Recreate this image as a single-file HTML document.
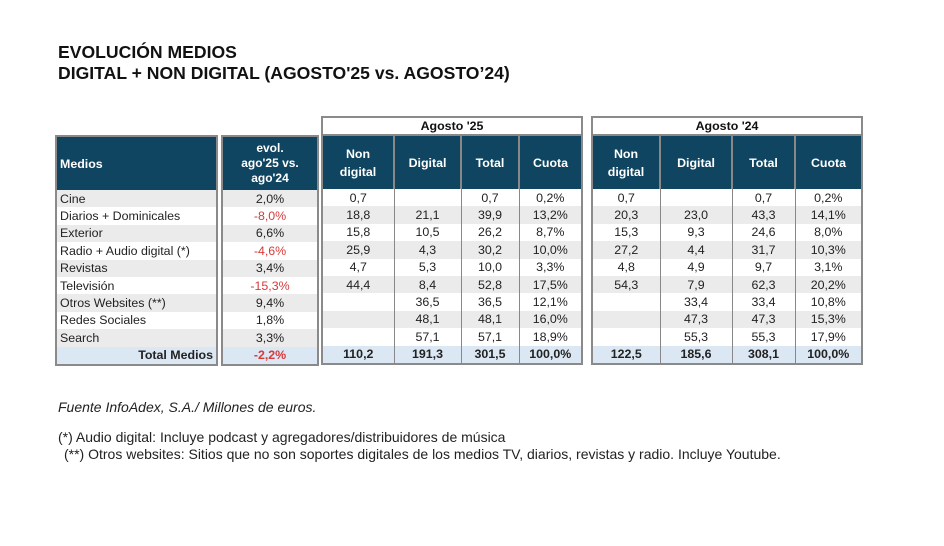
<!DOCTYPE html><html><head><meta charset="utf-8"><style>
body{margin:0;width:944px;height:546px;background:#fff;font-family:"Liberation Sans",sans-serif;position:relative;overflow:hidden;color:#222}
.t{position:absolute;font-weight:bold;font-size:17.6px;color:#111;left:58px;line-height:21px}
table{position:absolute;border-collapse:collapse;table-layout:fixed;font-size:12.4px;border:2px solid #8a8a8a}
td,th{padding:0 3px;height:17.4px;line-height:16px;white-space:nowrap;text-align:center}
th{background:#0f4560;color:#fff;font-weight:bold;height:53px;line-height:18px;border-left:2px solid #888}
th.cap{background:#fff;color:#111;height:16px;line-height:15px;border-bottom:2px solid #888}
tr:nth-child(even) td{background:#ebebeb}
tr.tot td{background:#dbe7f3;font-weight:bold}
td+td{border-left:1px solid #888}
.r{color:#d63a3a}
.l{text-align:left}
.n{position:absolute;font-size:14px;color:#222;left:58px}
</style></head><body>
<div class="t" style="top:42px">EVOLUCIÓN MEDIOS<br>DIGITAL + NON DIGITAL (AGOSTO'25 vs. AGOSTO’24)</div>

<table style="left:55px;top:135px;width:163px">
<tr><th class="l" style="border-left:0">Medios</th></tr>
<tr><td class="l">Cine</td></tr><tr><td class="l">Diarios + Dominicales</td></tr><tr><td class="l">Exterior</td></tr><tr><td class="l">Radio + Audio digital (*)</td></tr><tr><td class="l">Revistas</td></tr><tr><td class="l">Televisión</td></tr><tr><td class="l">Otros Websites (**)</td></tr><tr><td class="l">Redes Sociales</td></tr><tr><td class="l">Search</td></tr><tr class="tot"><td style="text-align:right">Total Medios</td></tr>
</table>

<table style="left:221px;top:135px;width:98px">
<tr><th style="border-left:0;line-height:15px;font-size:12px">evol.<br>ago'25 vs.<br>ago'24</th></tr>
<tr><td>2,0%</td></tr><tr><td class="r">-8,0%</td></tr><tr><td>6,6%</td></tr><tr><td class="r">-4,6%</td></tr><tr><td>3,4%</td></tr><tr><td class="r">-15,3%</td></tr><tr><td>9,4%</td></tr><tr><td>1,8%</td></tr><tr><td>3,3%</td></tr><tr class="tot"><td class="r">-2,2%</td></tr>
</table>

<table style="left:321px;top:116px;width:260px">
<colgroup><col style="width:72px"><col style="width:67px"><col style="width:58px"><col style="width:63px"></colgroup>
<tr><th class="cap" colspan="4" style="border-left:0">Agosto '25</th></tr>
<tr><th style="border-left:0">Non<br>digital</th><th>Digital</th><th>Total</th><th>Cuota</th></tr>
<tr><td>0,7</td><td></td><td>0,7</td><td>0,2%</td></tr>
<tr><td>18,8</td><td>21,1</td><td>39,9</td><td>13,2%</td></tr>
<tr><td>15,8</td><td>10,5</td><td>26,2</td><td>8,7%</td></tr>
<tr><td>25,9</td><td>4,3</td><td>30,2</td><td>10,0%</td></tr>
<tr><td>4,7</td><td>5,3</td><td>10,0</td><td>3,3%</td></tr>
<tr><td>44,4</td><td>8,4</td><td>52,8</td><td>17,5%</td></tr>
<tr><td></td><td>36,5</td><td>36,5</td><td>12,1%</td></tr>
<tr><td></td><td>48,1</td><td>48,1</td><td>16,0%</td></tr>
<tr><td></td><td>57,1</td><td>57,1</td><td>18,9%</td></tr>
<tr class="tot"><td>110,2</td><td>191,3</td><td>301,5</td><td>100,0%</td></tr>
</table>

<table style="left:591px;top:116px;width:270px">
<colgroup><col style="width:68px"><col style="width:72px"><col style="width:63px"><col style="width:67px"></colgroup>
<tr><th class="cap" colspan="4" style="border-left:0">Agosto '24</th></tr>
<tr><th style="border-left:0">Non<br>digital</th><th>Digital</th><th>Total</th><th>Cuota</th></tr>
<tr><td>0,7</td><td></td><td>0,7</td><td>0,2%</td></tr>
<tr><td>20,3</td><td>23,0</td><td>43,3</td><td>14,1%</td></tr>
<tr><td>15,3</td><td>9,3</td><td>24,6</td><td>8,0%</td></tr>
<tr><td>27,2</td><td>4,4</td><td>31,7</td><td>10,3%</td></tr>
<tr><td>4,8</td><td>4,9</td><td>9,7</td><td>3,1%</td></tr>
<tr><td>54,3</td><td>7,9</td><td>62,3</td><td>20,2%</td></tr>
<tr><td></td><td>33,4</td><td>33,4</td><td>10,8%</td></tr>
<tr><td></td><td>47,3</td><td>47,3</td><td>15,3%</td></tr>
<tr><td></td><td>55,3</td><td>55,3</td><td>17,9%</td></tr>
<tr class="tot"><td>122,5</td><td>185,6</td><td>308,1</td><td>100,0%</td></tr>
</table>

<div class="n" style="top:399px;font-style:italic">Fuente InfoAdex, S.A./ Millones de euros.</div>
<div class="n" style="top:429px">(*) Audio digital: Incluye podcast y agregadores/distribuidores de música</div>
<div class="n" style="top:446px;left:64px">(**) Otros websites: Sitios que no son soportes digitales de los medios TV, diarios, revistas y radio. Incluye Youtube.</div>
</body></html>
